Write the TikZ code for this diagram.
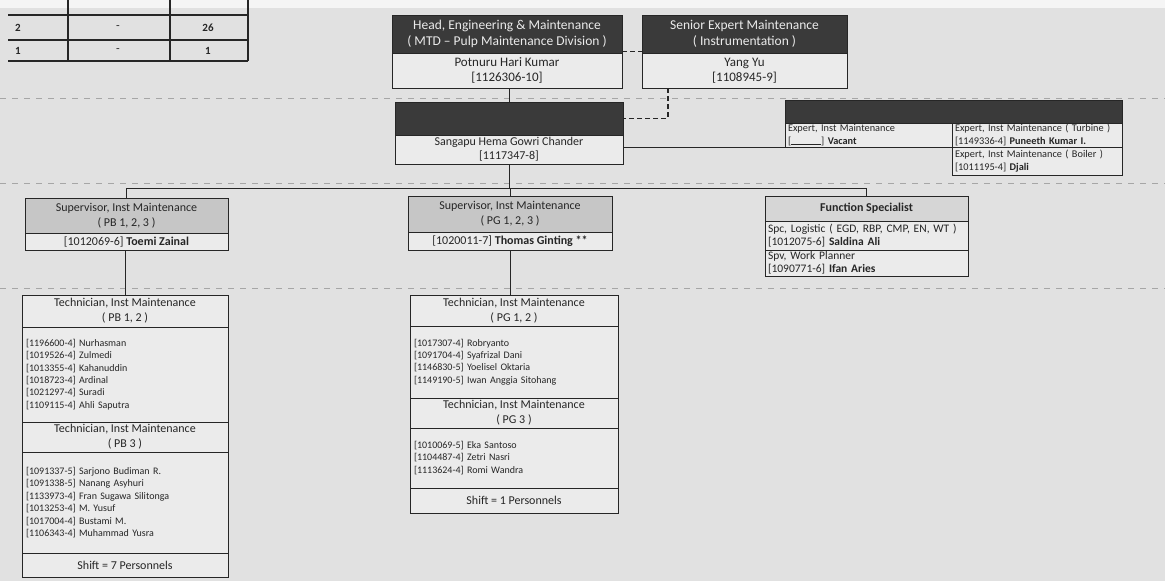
\documentclass[tikz,border=0pt]{standalone}
\usepackage{fontspec}
\setmainfont{Carlito}
\usetikzlibrary{positioning}
\definecolor{paper}{HTML}{E1E1E1}
\definecolor{boxfill}{HTML}{EBEBEB}
\definecolor{darkhead}{HTML}{3A3A3A}
\definecolor{midhead}{HTML}{C6C6C6}
\definecolor{lighthead}{HTML}{D6D6D6}
\definecolor{ink}{HTML}{262626}
\newcommand{\empid}[1]{[#1]}
\tikzset{orgbox/.style={draw=ink, line width=0.9pt, fill=boxfill, text=ink,
                        align=center, inner sep=1pt},
         darkbox/.style={orgbox, fill=darkhead, text=white!92!black},
         midbox/.style={orgbox, fill=midhead},
         lightbox/.style={orgbox, fill=lighthead},
         listbox/.style={orgbox, align=left, inner xsep=4pt,
                         font=\fontsize{10}{12.4}\selectfont},
         cellbox/.style={orgbox, align=left, inner xsep=3pt},
         sepline/.style={gray!70, line width=0.8pt, dash pattern=on 6pt off 6pt},
         tabline/.style={ink, line width=1.1pt}}

\begin{document}
\begin{tikzpicture}[x=1pt, y=-1pt, every node/.style={font=\fontsize{12}{15}\selectfont}]
      \fill[paper] (0,0) rectangle (1165,581);
      \fill[white!96!black] (0,0) rectangle (1165,8);
      \useasboundingbox (0,0) rectangle (1165,581);

      \draw[tabline] (8,15) -- (248,15) (8,40) -- (248,40) (8,61) -- (248,61)
        (68,0) -- (68,61) (170,0) -- (170,61) (248,0) -- (248,61);
      \node[font=\bfseries\fontsize{11}{12}\selectfont, text=ink] (r2a) at (18,28) {2};
      \node[text=ink] (r2b) at (118,28) {-};
      \node[font=\bfseries\fontsize{11}{12}\selectfont, text=ink] (r2c) at (208,28) {26};
      \node[font=\bfseries\fontsize{11}{12}\selectfont, text=ink] (r1a) at (18,51) {1};
      \node[text=ink] (r1b) at (118,51) {-};
      \node[font=\bfseries\fontsize{11}{12}\selectfont, text=ink] (r1c) at (208,51) {1};

      \draw[sepline] (0,98) -- (1165,98) (0,183) -- (1165,183) (0,288) -- (1165,288);

      \draw node[darkbox, minimum width=230, minimum height=38,
                 font=\fontsize{13.5}{16}\selectfont] (headT) at (507,34)
        {Head, Engineering \& Maintenance\\( MTD -- Pulp Maintenance Division )};
      \draw node[orgbox, minimum width=230, minimum height=35,
                 font=\fontsize{13}{15}\selectfont] (headB) at (507,70.5)
        {Potnuru Hari Kumar\\\empid{1126306-10}};
      \draw node[darkbox, minimum width=205, minimum height=38,
                 font=\fontsize{13.5}{16}\selectfont] (senT) at (744.5,34)
        {Senior Expert Maintenance\\( Instrumentation )};
      \draw node[orgbox, minimum width=205, minimum height=35,
                 font=\fontsize{13}{15}\selectfont] (senB) at (744.5,70.5)
        {Yang Yu\\\empid{1108945-9}};

      \draw node[darkbox, minimum width=228, minimum height=33] (sangT) at (509,118.5) {};
      \draw node[orgbox, minimum width=228, minimum height=29,
                 font=\fontsize{12}{14}\selectfont] (sangB) at (509,149.5)
        {Sangapu Hema Gowri Chander\\\empid{1117347-8}};

      \draw node[darkbox, minimum width=337, minimum height=23] (expT) at (953.5,111.5) {};
      \draw node[cellbox, text width=161, minimum height=24,
                 font=\fontsize{10.3}{13}\selectfont] (expA) at (868.5,135)
        {Expert, Inst Maintenance\\{[}\rule{30pt}{0.4pt}{]} \textbf{Vacant}};
      \draw node[cellbox, text width=164, minimum height=24,
                 font=\fontsize{10.3}{13}\selectfont] (expB) at (1037,135)
        {Expert, Inst Maintenance ( Turbine )\\\empid{1149336-4} \textbf{Puneeth Kumar I.}};
      \draw node[cellbox, text width=164, minimum height=28,
                 font=\fontsize{10.3}{13}\selectfont] (expC) at (1037,161)
        {Expert, Inst Maintenance ( Boiler )\\\empid{1011195-4} \textbf{Djali}};

      \draw node[midbox, minimum width=203, minimum height=35] (supLT) at (126.5,215.5)
        {Supervisor, Inst Maintenance\\( PB 1, 2, 3 )};
      \draw node[orgbox, minimum width=203, minimum height=17] (supLB) at (126.5,241.5)
        {\empid{1012069-6} \textbf{Toemi Zainal}};
      \draw node[midbox, minimum width=204, minimum height=36] (supMT) at (510,214)
        {Supervisor, Inst Maintenance\\( PG 1, 2, 3 )};
      \draw node[orgbox, minimum width=204, minimum height=18] (supMB) at (510,241)
        {\empid{1020011-7} \textbf{Thomas Ginting **}};
      \draw node[lightbox, minimum width=203, minimum height=25,
                 font=\bfseries\fontsize{12}{15}\selectfont] (funT) at (866.5,208.5)
        {Function Specialist};
      \draw node[cellbox, text width=197, minimum height=29,
                 font=\fontsize{11.5}{13.5}\selectfont] (funA) at (866.5,235.5)
        {Spc, Logistic ( EGD, RBP, CMP, EN, WT )\\\empid{1012075-6} \textbf{Saldina Ali}};
      \draw node[cellbox, text width=197, minimum height=26,
                 font=\fontsize{11.5}{13.5}\selectfont] (funB) at (866.5,263)
        {Spv, Work Planner\\\empid{1090771-6} \textbf{Ifan Aries}};

      \draw node[orgbox, minimum width=206, minimum height=32] (techLA) at (125,311)
        {Technician, Inst Maintenance\\( PB 1, 2 )};
      \draw node[listbox, text width=198, minimum height=95] (techLB) at (125,374.5)
        {\empid{1196600-4} Nurhasman\\\empid{1019526-4} Zulmedi\\
         \empid{1013355-4} Kahanuddin\\\empid{1018723-4} Ardinal\\
         \empid{1021297-4} Suradi\\\empid{1109115-4} Ahli Saputra};
      \draw node[orgbox, minimum width=206, minimum height=30] (techLC) at (125,437)
        {Technician, Inst Maintenance\\( PB 3 )};
      \draw node[listbox, text width=198, minimum height=101] (techLD) at (125,502.5)
        {\empid{1091337-5} Sarjono Budiman R.\\\empid{1091338-5} Nanang Asyhuri\\
         \empid{1133973-4} Fran Sugawa Silitonga\\\empid{1013253-4} M. Yusuf\\
         \empid{1017004-4} Bustami M.\\\empid{1106343-4} Muhammad Yusra};
      \draw node[orgbox, minimum width=206, minimum height=24] (techLE) at (125,565)
        {Shift = 7 Personnels};

      \draw node[orgbox, minimum width=208, minimum height=31] (techMA) at (514,310.5)
        {Technician, Inst Maintenance\\( PG 1, 2 )};
      \draw node[listbox, text width=200, minimum height=72] (techMB) at (514,362)
        {\empid{1017307-4} Robryanto\\\empid{1091704-4} Syafrizal Dani\\
         \empid{1146830-5} Yoelisel Oktaria\\\empid{1149190-5} Iwan Anggia Sitohang};
      \draw node[orgbox, minimum width=208, minimum height=30] (techMC) at (514,413)
        {Technician, Inst Maintenance\\( PG 3 )};
      \draw node[listbox, text width=200, minimum height=60] (techMD) at (514,458)
        {\empid{1010069-5} Eka Santoso\\\empid{1104487-4} Zetri Nasri\\
         \empid{1113624-4} Romi Wandra};
      \draw node[orgbox, minimum width=208, minimum height=25] (techME) at (514,500.5)
        {Shift = 1 Personnels};

      \coordinate (bus) at (509,188);

      \draw[ink, line width=0.9pt] ([xshift=2pt]headB.south) -- ([xshift=2pt]headB.south |- sangT.north)
        (sangB.east |- expA.south) -- (expA.south west)
        (sangB.south) -- (bus)
        (bus) -| (supLT.north)
        (bus) -| (supMT.north)
        (bus) -| (funT.north)
        ([xshift=-1.5pt]supLB.south) -- ([xshift=-1.5pt]supLB.south |- techLA.north)
        (supMB.south) -- (supMB.south |- techMA.north);
      \draw[ink, line width=1.2pt, dash pattern=on 5pt off 3pt]
        ([yshift=2pt]headT.south east) -- ([yshift=2pt]senT.south west)
        ([xshift=-76.5pt]senB.south) |- (sangT.east);
    \end{tikzpicture}
\end{document}
